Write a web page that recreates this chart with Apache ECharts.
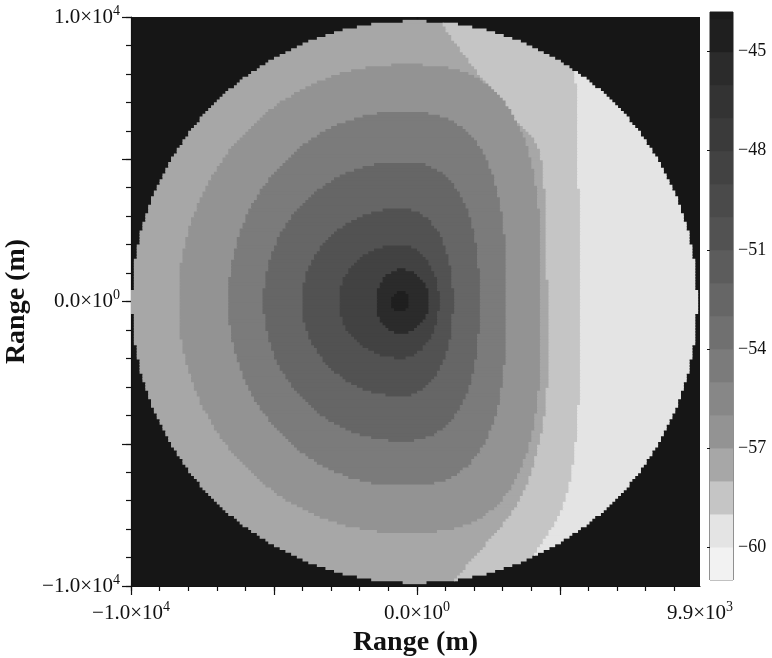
<!DOCTYPE html>
<html><head><meta charset="utf-8">
<script src="https://cdn.jsdelivr.net/npm/echarts@6/dist/echarts.min.js"></script>
<style>html,body{margin:0;padding:0;background:#fff}#c{width:772px;height:658px}</style>
</head><body><div id="c"></div>
<script>
// ---- data (km, dB) ----
// closed contours around the source: half-axes toward E, N, W, S (km)
const ringLevels = [-45,-46,-49,-51,-53,-55,-57];
const ringCenter = [-0.56, 0.04];
const ringEast  = [0.30, 0.98, 1.33, 1.82, 2.74, 3.68, 4.91];
const ringNorth = [0.35, 1.12, 2.00, 3.26, 4.91, 6.67, 8.32];
const ringWest  = [0.35, 0.88, 2.18, 3.47, 4.81, 6.04, 7.79];
const ringSouth = [0.35, 1.12, 2.00, 3.33, 4.91, 6.49, 8.14];
const ringEastPower = [2, 2, 2, 2.2, 2.5, 2.8, 3];
// east boundaries of the two outer bands (north to south)
const edgeLevels = [-58, -59];
const edgeChains = [
  [[0.42,10.4],[1.82,8.47],[3.30,6.61],[4.28,5.31],[4.49,2.88],[4.56,0.04],[4.56,-2.85],[4.28,-4.89],[3.58,-6.96],[2.18,-8.75],[0.77,-10.3]],
  [[5.45,10.4],[5.51,9.17],[5.61,5.31],[5.75,0.04],[5.61,-4.18],[5.16,-6.99],[3.93,-9.10],[2.88,-10.4]]
];
const outerLevel = -60;
const diskCenter = [-0.10, 0.0];
const diskRadius = 9.86;
const cbarLevels = [-61,-60,-59,-58,-57,-56,-55,-54,-53,-52,-51,-50,-49,-48,-47,-46,-45,-44];
const cbarTop = -43.8;
const xTickLabels = [-10, 0, 9.9];
const yTickLabels = [10, 0, -10];
const cbarTickLabels = [-60,-57,-54,-51,-48,-45];

// ---- styles ----
const grays = {'-61':'#f2f2f2','-60':'#e4e4e4','-59':'#c5c5c5','-58':'#a7a7a7','-57':'#939393','-56':'#878787',
  '-55':'#7b7b7b','-54':'#707070','-53':'#666666','-52':'#5c5c5c','-51':'#525252','-50':'#4a4a4a',
  '-49':'#424242','-48':'#3a3a3a','-47':'#333333','-46':'#2b2b2b','-45':'#1f1f1f','-44':'#1a1a1a'};
const FONT = 'Liberation Serif';

// ---- geometry helpers ----
function cr(p0,p1,p2,p3,t){const t2=t*t,t3=t2*t;return 0.5*((2*p1)+(-p0+p2)*t+(2*p0-5*p1+4*p2-p3)*t2+(-p0+3*p1-3*p2+p3)*t3);}
function smoothChain(pts){
  const out=[]; const n=pts.length;
  for(let i=0;i<n-1;i++){
    const p0=pts[Math.max(i-1,0)],p1=pts[i],p2=pts[i+1],p3=pts[Math.min(i+2,n-1)];
    for(let k=0;k<8;k++){const t=k/8;out.push([cr(p0[0],p1[0],p2[0],p3[0],t),cr(p0[1],p1[1],p2[1],p3[1],t)]);}
  }
  out.push(pts[n-1]); return out;
}
function inPoly(x,y,poly){
  let c=false;
  for(let i=0,j=poly.length-1;i<poly.length;j=i++){
    const xi=poly[i][0],yi=poly[i][1],xj=poly[j][0],yj=poly[j][1];
    if(((yi>y)!==(yj>y)) && (x < (xj-xi)*(y-yi)/(yj-yi)+xi)) c=!c;
  }
  return c;
}
const edgePolys = edgeChains.map(ch => smoothChain(ch).concat([[-12,-12],[-12,12]]));
function inRing(k,x,y){
  const dx=x-ringCenter[0], dy=y-ringCenter[1];
  const east=dx>=0;
  const rx=east?ringEast[k]:ringWest[k], ry=dy>=0?ringNorth[k]:ringSouth[k];
  const p=east?ringEastPower[k]:2;
  return Math.pow(Math.abs(dx)/rx,p)+Math.pow(Math.abs(dy)/ry,p) <= 1;
}
function levelAt(x,y){
  for(let k=0;k<ringLevels.length;k++){ if(inRing(k,x,y)) return ringLevels[k]; }
  for(let k=0;k<edgeLevels.length;k++){ if(inPoly(x,y,edgePolys[k])) return edgeLevels[k]; }
  return outerLevel;
}

const runs=[];
const STEP=0.1;
for(let j=0;j<200;j++){
  const y0=-10+j*STEP, y1=y0+STEP, yc=(y0+y1)/2;
  let cur=null;
  for(let i=0;i<199;i++){
    const x0=-10+i*STEP, x1=x0+STEP, xc=(x0+x1)/2;
    const inside = Math.hypot(xc-diskCenter[0], yc-diskCenter[1]) <= diskRadius;
    if(!inside){ if(cur){runs.push(cur);cur=null;} continue; }
    const lv=levelAt(xc,yc);
    if(cur && cur[4]===lv){ cur[1]=x1; }
    else { if(cur) runs.push(cur); cur=[x0,x1,y0,y1,lv]; }
  }
  if(cur) runs.push(cur);
}
const cbarData = cbarLevels.map(l => [l, Math.min(l+1, cbarTop), l]);

function sciLabel(v){
  const m=Math.round(v*1000);
  let mant, ex;
  if(m===0){mant='0.0';ex=0;} else {ex=Math.floor(Math.log10(Math.abs(m))+1e-9); mant=(Math.abs(m)/Math.pow(10,ex)).toFixed(1); if(m<0) mant='−'+mant;}
  return '{m|'+mant+'×10}{e|'+ex+'}';
}
const richSci = {m:{fontFamily:FONT,fontSize:21,color:'#111'}, e:{fontFamily:FONT,fontSize:14,color:'#111',padding:[0,0,12,0]}};
const minorX=[]; for(let v=-10;v<=9;v++) minorX.push(v);
const minorY=[]; for(let v=-10;v<=10;v++) minorY.push(v);
const tickStyle={color:'#111', width:1.2};

const chart = echarts.init(document.getElementById('c'), null, {renderer:'canvas'});
chart.setOption({
  animation:false,
  backgroundColor:'#fff',
  grid:[
    {left:131, top:17, width:569, height:569, show:true, backgroundColor:'#161616', borderWidth:0, outerBoundsMode:'none', containLabel:false},
    {left:710, top:12, width:23, height:568, show:true, backgroundColor:'transparent', borderColor:'#222', borderWidth:1, outerBoundsMode:'none', containLabel:false}
  ],
  xAxis:[
    {type:'value', gridIndex:0, min:-10, max:9.9, position:'bottom',
      axisLine:{show:true, onZero:false, lineStyle:tickStyle},
      axisTick:{show:true, customValues:minorX, length:5, lineStyle:tickStyle},
      axisLabel:{customValues:xTickLabels, formatter:sciLabel, rich:richSci, margin:14},
      splitLine:{show:false},
      name:'Range (m)', nameLocation:'middle', nameGap:43,
      nameTextStyle:{fontFamily:FONT, fontSize:28, fontWeight:'bold', color:'#111'}},
    {type:'value', gridIndex:0, min:-10, max:9.9, position:'bottom', axisLine:{show:false, onZero:false},
      axisTick:{show:true, customValues:[-10,-5,0,5], length:9, lineStyle:tickStyle},
      axisLabel:{show:false}, splitLine:{show:false}},
    {type:'value', gridIndex:0, min:-10, max:9.9, position:'top', axisLine:{show:false, onZero:false},
      axisTick:{show:true, inside:true, customValues:[0], length:6, lineStyle:tickStyle},
      axisLabel:{show:false}, splitLine:{show:false}},
    {type:'value', gridIndex:1, min:0, max:1, show:false}
  ],
  yAxis:[
    {type:'value', gridIndex:0, min:-10, max:10, position:'left',
      axisLine:{show:true, onZero:false, lineStyle:tickStyle},
      axisTick:{show:true, customValues:minorY, length:5, lineStyle:tickStyle},
      axisLabel:{customValues:yTickLabels, formatter:sciLabel, rich:richSci, margin:11},
      splitLine:{show:false},
      name:'Range (m)', nameLocation:'middle', nameGap:91,
      nameTextStyle:{fontFamily:FONT, fontSize:28, fontWeight:'bold', color:'#111'}},
    {type:'value', gridIndex:0, min:-10, max:10, position:'left', axisLine:{show:false, onZero:false},
      axisTick:{show:true, customValues:[-10,-5,0,5,10], length:9, lineStyle:tickStyle},
      axisLabel:{show:false}, splitLine:{show:false}},
    {type:'value', gridIndex:1, min:-61, max:cbarTop, position:'right',
      axisLine:{show:false, onZero:false}, axisTick:{show:false}, splitLine:{show:false},
      axisLabel:{customValues:cbarTickLabels, margin:5, fontFamily:FONT, fontSize:18, color:'#111',
        formatter:v=>'−'+Math.abs(v)}},
    {type:'value', gridIndex:1, min:-61, max:cbarTop, position:'left',
      axisLine:{show:false, onZero:false}, splitLine:{show:false}, axisLabel:{show:false},
      axisTick:{show:true, customValues:cbarTickLabels, length:3, lineStyle:{color:'#111'}}}
  ],
  series:[
    {type:'custom', xAxisIndex:0, yAxisIndex:0, silent:true, progressive:0, data:runs,
      renderItem:(params, api)=>{
        const p0=api.coord([api.value(0), api.value(3)]), p1=api.coord([api.value(1), api.value(2)]);
        return {type:'rect', shape:{x:p0[0], y:p0[1], width:p1[0]-p0[0]+1, height:p1[1]-p0[1]+1},
          style:{fill:grays[String(api.value(4))]}};
      }},
    {type:'custom', xAxisIndex:3, yAxisIndex:2, silent:true, data:cbarData,
      renderItem:(params, api)=>{
        const p0=api.coord([0, api.value(1)]), p1=api.coord([1, api.value(0)]);
        return {type:'rect', shape:{x:p0[0], y:p0[1], width:p1[0]-p0[0], height:p1[1]-p0[1]+0.5},
          style:{fill:grays[String(api.value(2))]}};
      }}
  ]
});
</script></body></html>
